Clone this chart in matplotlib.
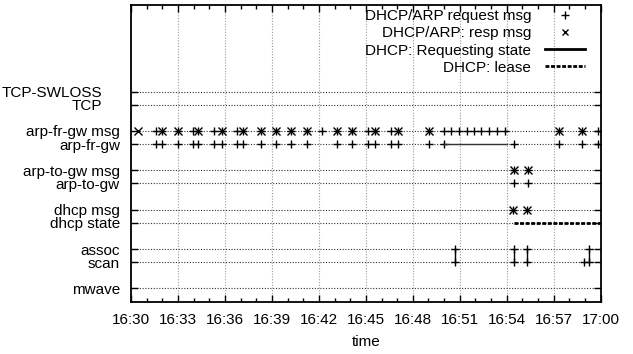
import numpy as np
import matplotlib.pyplot as plt
from matplotlib.lines import Line2D
from matplotlib.ticker import FixedLocator, MultipleLocator

plt.rcParams['font.family'] = ['Liberation Sans', 'DejaVu Sans']
plt.rcParams['font.size'] = 11

# rows of the chart (label -> y level)
row_names = ["mwave", "scan", "assoc", "dhcp state", "dhcp msg", "arp-to-gw",
             "arp-to-gw msg", "arp-fr-gw", "arp-fr-gw msg", "TCP", "TCP-SWLOSS"]
row_levels = [0, 2, 3, 5, 6, 8, 9, 11, 12, 14, 15]
Y = dict(zip(row_names, row_levels))

# event times, minutes after 16:30
fr_msg_req = [1.58, 1.95, 2.97, 3.94, 4.28, 5.30, 5.81, 6.77, 7.18, 8.32, 9.27,
              10.21, 11.21, 12.22, 13.17, 14.14, 15.11, 15.61, 16.60, 17.04, 19.02,
              19.98, 20.43, 20.94, 21.43, 21.90, 22.38, 22.87, 23.38, 23.87,
              27.35, 28.79, 29.81]
fr_msg_resp = [0.45, 1.95, 2.97, 4.28, 5.81, 7.18, 8.32, 9.27, 10.21, 11.21,
               13.17, 14.14, 15.61, 17.04, 19.02, 27.35, 28.79]
fr_state = [1.58, 1.95, 2.97, 3.94, 4.28, 5.30, 5.81, 6.77, 7.18, 8.32, 9.27,
            10.21, 11.21, 13.17, 14.14, 15.11, 15.61, 16.60, 17.04, 19.02, 19.98,
            24.47, 27.35, 28.79, 29.81]
requesting = [19.98, 24.0]
to_msg_req = [24.47, 25.34]
to_msg_resp = [24.47, 25.34]
to_state = [24.47, 25.34]
dhcp_msg_req = [24.42, 25.30]
dhcp_msg_resp = [24.42, 25.30]
dhcp_lease = [24.47, 30.0]
assoc_t = [20.68, 24.47, 25.28, 29.25]
scan_t = [20.68, 24.47, 25.28, 28.91, 29.25]

xtick_min = [0, 3, 6, 9, 12, 15, 18, 21, 24, 27, 30]
xtick_labels = ["16:30", "16:33", "16:36", "16:39", "16:42", "16:45",
                "16:48", "16:51", "16:54", "16:57", "17:00"]


def pts(ax, t, row, marker):
    ax.plot(t, [Y[row]] * len(t), marker, color="black", ms=5.5, mew=1.0,
            linestyle="none", zorder=3)


fig = plt.figure(figsize=(6.33, 3.54), dpi=100)
ax = fig.add_axes([0.207, 0.148, 0.742, 0.838])

pts(ax, fr_msg_req, "arp-fr-gw msg", "+")
pts(ax, fr_msg_resp, "arp-fr-gw msg", "x")
pts(ax, fr_state, "arp-fr-gw", "+")
ax.plot(requesting, [Y["arp-fr-gw"]] * 2, color="#333333", lw=1.0, zorder=3)
pts(ax, to_msg_req, "arp-to-gw msg", "+")
pts(ax, to_msg_resp, "arp-to-gw msg", "x")
pts(ax, to_state, "arp-to-gw", "+")
pts(ax, dhcp_msg_req, "dhcp msg", "+")
pts(ax, dhcp_msg_resp, "dhcp msg", "x")
ax.plot(dhcp_lease, [Y["dhcp state"]] * 2, color="black", lw=2.0,
        linestyle=(0, (1.4, 0.6)), zorder=3)
ax.vlines(assoc_t, Y["scan"], Y["assoc"], color="black", lw=1.0, zorder=3)
pts(ax, assoc_t, "assoc", "+")
pts(ax, scan_t, "scan", "+")

ax.set_xlim(0, 30)
ax.set_ylim(-1, 21.6)
ax.xaxis.set_major_locator(FixedLocator(xtick_min))
ax.set_xticklabels(xtick_labels)
ax.xaxis.set_minor_locator(MultipleLocator(1))
ax.set_yticks(row_levels)
ax.set_yticklabels(row_names)
ax.tick_params(axis="both", which="both", direction="in", top=True, right=True)
ax.tick_params(axis="both", which="major", length=5, width=1)
ax.tick_params(axis="x", which="minor", length=3, width=1)
ax.tick_params(axis="y", pad=8)
ax.tick_params(axis="x", pad=8)
for tk, name in zip(ax.yaxis.get_major_ticks(), row_names):
    if name.startswith("TCP"):
        tk.set_pad(21)

ax.xaxis.grid(True, color="#999999", linestyle=(0, (1, 1.5)), lw=0.8)
ax.yaxis.grid(True, color="#333333", linestyle=(0, (1, 1.5)), lw=0.8)
ax.set_axisbelow(True)
for s in ax.spines.values():
    s.set_linewidth(1.3)

ax.set_xlabel("time", labelpad=6)

handles = [
    Line2D([], [], marker="+", color="black", ls="none", ms=5.5, mew=1.0),
    Line2D([], [], marker="x", color="black", ls="none", ms=4.5, mew=1.0),
    Line2D([], [], color="black", lw=2.0),
    Line2D([], [], color="black", lw=2.0, ls=(0, (1.4, 0.6))),
]
labels = ["DHCP/ARP request msg", "DHCP/ARP: resp msg",
          "DHCP: Requesting state", "DHCP: lease"]
ax.legend(handles, labels, loc="upper right", frameon=False, markerfirst=False,
          handlelength=2.6, handletextpad=0.9, labelspacing=0.2,
          borderpad=0.0, borderaxespad=0.0, bbox_to_anchor=(0.966, 0.985))

fig.savefig("out.png", dpi=100)
